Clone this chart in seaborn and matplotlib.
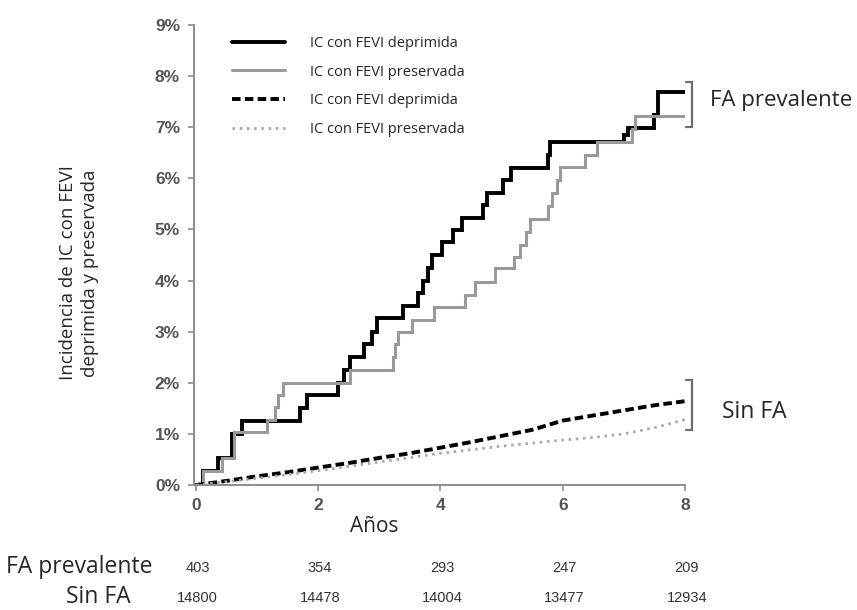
import matplotlib
matplotlib.use("Agg")
import matplotlib.pyplot as plt
import matplotlib.transforms as mtransforms
import numpy as np
import pandas as pd
import seaborn as sns

# Cumulative incidence (%) — prevalent AF, reduced EF (step function)
fa_red_t = [0, 0.11, 0.36, 0.59, 0.75, 1.70, 1.82, 2.33, 2.42, 2.52, 2.75, 2.88, 2.96,
            3.39, 3.63, 3.72, 3.80, 3.87, 4.03, 4.20, 4.36, 4.70, 4.76, 5.03, 5.15,
            5.76, 5.80, 7.00, 7.06, 7.50, 7.56, 8.00]
fa_red_v = [0, 0.27, 0.53, 1.00, 1.25, 1.50, 1.76, 2.00, 2.25, 2.50, 2.75, 3.00, 3.27,
            3.50, 3.75, 4.00, 4.25, 4.50, 4.76, 4.99, 5.22, 5.47, 5.71, 5.96, 6.21,
            6.46, 6.71, 6.85, 6.98, 7.24, 7.69, 7.69]

# Prevalent AF, preserved EF (step function)
fa_pres_t = [0, 0.11, 0.42, 0.62, 1.16, 1.30, 1.35, 1.42, 2.52, 3.23, 3.26, 3.30, 3.53,
             3.90, 4.40, 4.57, 4.90, 5.20, 5.30, 5.40, 5.47, 5.76, 5.82, 5.90, 5.96,
             6.37, 6.56, 7.13, 7.18, 8.00]
fa_pres_v = [0, 0.27, 0.53, 1.03, 1.27, 1.52, 1.76, 2.00, 2.25, 2.50, 2.75, 3.00, 3.23,
             3.49, 3.72, 3.97, 4.24, 4.47, 4.70, 4.95, 5.20, 5.45, 5.71, 5.96, 6.22,
             6.46, 6.71, 6.97, 7.22, 7.22]

# No AF, reduced EF
sin_red_t = [0, 0.5, 1, 1.5, 2, 2.5, 3, 3.5, 4, 4.5, 5, 5.5, 6, 6.5, 7, 7.5, 8]
sin_red_v = [0, 0.08, 0.17, 0.25, 0.34, 0.43, 0.53, 0.62, 0.73, 0.84, 0.96, 1.08,
             1.26, 1.36, 1.46, 1.56, 1.64]

# No AF, preserved EF
sin_pres_t = [0, 1, 2, 3, 4, 5, 5.5, 6, 6.5, 7, 7.5, 8]
sin_pres_v = [0, 0.13, 0.28, 0.45, 0.62, 0.76, 0.82, 0.88, 0.93, 1.00, 1.12, 1.28]

legend_labels = ["IC con FEVI deprimida", "IC con FEVI preservada",
                 "IC con FEVI deprimida", "IC con FEVI preservada"]

# Numbers at risk
risk_years = [0, 2, 4, 6, 8]
risk_fa = [403, 354, 293, 247, 209]
risk_sin = [14800, 14478, 14004, 13477, 12934]
risk_rows = ["FA prevalente", "Sin FA"]

sns.set_theme(style="white")
plt.rcParams["font.family"] = ["Open Sans", "DejaVu Sans"]

fig = plt.figure(figsize=(8.57, 6.10), dpi=100)
ax = fig.add_axes([194 / 857, 1 - 485 / 610, (685 - 194) / 857, (485 - 25) / 610])

GREY_LINE = "#9a9a9a"

df_fa_red = pd.DataFrame({"t": fa_red_t, "v": fa_red_v})
df_fa_pres = pd.DataFrame({"t": fa_pres_t, "v": fa_pres_v})
df_sin_red = pd.DataFrame({"t": sin_red_t, "v": sin_red_v})
df_sin_pres = pd.DataFrame({"t": sin_pres_t, "v": sin_pres_v})

sns.lineplot(data=df_fa_red, x="t", y="v", ax=ax, estimator=None, sort=False,
             drawstyle="steps-post", color="black", lw=2.8, label=legend_labels[0],
             solid_joinstyle="miter")
sns.lineplot(data=df_fa_pres, x="t", y="v", ax=ax, estimator=None, sort=False,
             drawstyle="steps-post", color=GREY_LINE, lw=2.2, label=legend_labels[1],
             solid_joinstyle="miter")
sns.lineplot(data=df_sin_red, x="t", y="v", ax=ax, estimator=None, sort=False,
             color="black", lw=2.8, label=legend_labels[2],
             dashes=False)
sns.lineplot(data=df_sin_pres, x="t", y="v", ax=ax, estimator=None, sort=False,
             color="#a8a8a8", lw=2.0, label=legend_labels[3], dashes=False)

lines = ax.get_lines()
lines[2].set_linestyle((0, (2.2, 1.1)))
lines[3].set_linestyle((0, (0.9, 1.7)))

ax.set_xlim(-0.03, 8.0)
ax.set_ylim(0, 9)
ax.set_xticks([0, 2, 4, 6, 8])
ax.set_yticks(range(0, 10))
ax.set_yticklabels([f"{i}%" for i in range(0, 10)])
ax.set_xlabel("")
ax.set_ylabel("")

for side in ("top", "right"):
    ax.spines[side].set_visible(False)
for side in ("left", "bottom"):
    ax.spines[side].set_color("#8c8c8c")
    ax.spines[side].set_linewidth(1.4)

ax.tick_params(axis="both", which="both", direction="out", length=4, width=1.2,
               color="#8c8c8c", left=True, bottom=True)
ax.tick_params(axis="y", pad=6)
ax.tick_params(axis="x", pad=5)
for lab in ax.get_xticklabels() + ax.get_yticklabels():
    lab.set_family(["Liberation Sans", "DejaVu Sans"])
    lab.set_fontweight("bold")
    lab.set_fontsize(12.5)
    lab.set_color("#555555")

# Legend
handles = ax.get_lines()[:4]
leg = ax.legend(handles=handles, labels=legend_labels, loc="upper left",
                bbox_to_anchor=(232 / 857, 1 - 36 / 610), bbox_transform=fig.transFigure,
                frameon=False, fontsize=10.5, handlelength=3.63, handletextpad=1.7,
                labelspacing=0.93, borderpad=0, borderaxespad=0)

# Axis titles
fig.text(374 / 857, 1 - 526 / 610, "Años", ha="center", va="center", fontsize=15)
fig.text(79 / 857, 1 - 273 / 610, "Incidencia de IC con FEVI\ndeprimida y preservada",
         ha="center", va="center", rotation=90, fontsize=13.5, linespacing=1.3,
         multialignment="center")

# Group brackets
bx = 8.12
for top, bot in ((7.89, 7.0), (2.05, 1.08)):
    ax.plot([bx - 0.1, bx, bx, bx - 0.1], [top, top, bot, bot], color="#6e6e6e",
            lw=1.6, clip_on=False, solid_joinstyle="miter")
fig.text(710 / 857, 1 - 101 / 610, "FA prevalente", ha="left", va="center", fontsize=16)
fig.text(722 / 857, 1 - 412 / 610, "Sin FA", ha="left", va="center", fontsize=16.5)

# Numbers at risk table
blend = mtransforms.blended_transform_factory(ax.transData, fig.transFigure)
for yr, n1, n2 in zip(risk_years, risk_fa, risk_sin):
    ax.text(yr + 0.03, 1 - 568 / 610, str(n1), transform=blend, ha="center", va="center",
            fontsize=10.5, color="#333333",
            family=["Liberation Sans Narrow", "Liberation Sans", "DejaVu Sans"])
    ax.text(yr + 0.03, 1 - 598 / 610, str(n2), transform=blend, ha="center", va="center",
            fontsize=10.5, color="#333333",
            family=["Liberation Sans Narrow", "Liberation Sans", "DejaVu Sans"])
fig.text(153 / 857, 1 - 567 / 610, risk_rows[0], ha="right", va="center", fontsize=16.5)
fig.text(131 / 857, 1 - 597 / 610, risk_rows[1], ha="right", va="center", fontsize=16.5)

fig.savefig("out.png", dpi=100)
